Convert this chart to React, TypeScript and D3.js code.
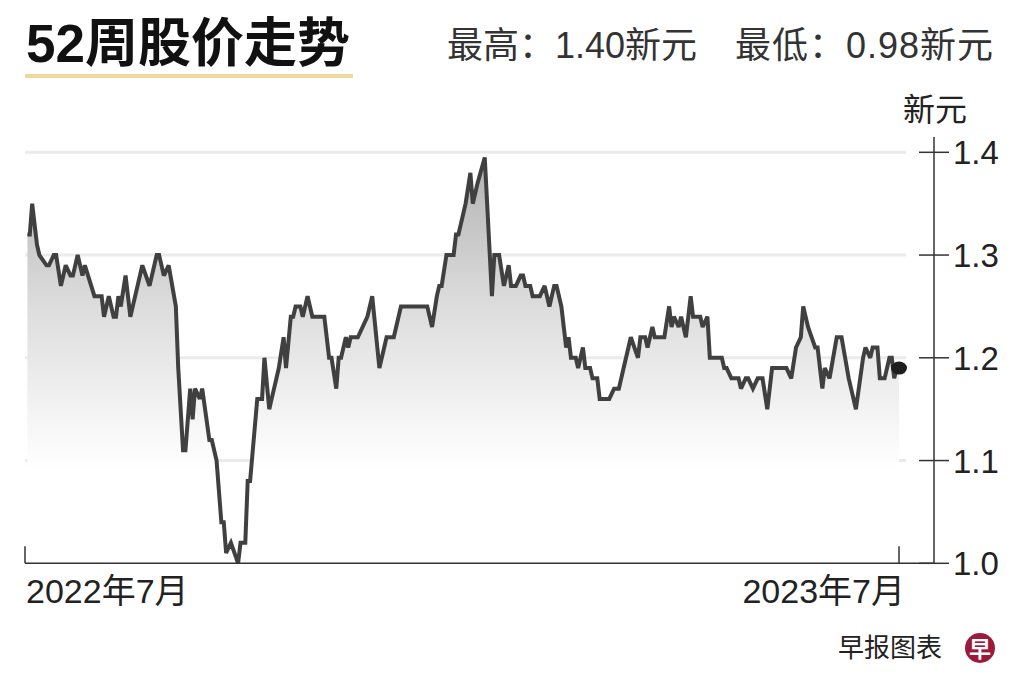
import React from "react";
import * as d3 from "d3";

// days since 2022-07-01
const days = [
  1, 2, 3, 5, 6, 9, 10, 12, 13, 15, 17, 19, 20, 22, 24, 25, 29, 32, 33, 35,
  37, 38, 39, 40, 42, 44, 46, 49, 52, 55, 56, 58, 60, 63, 64, 66, 67, 69, 70, 71,
  73, 74, 77, 78, 80, 82, 83, 84, 86, 89, 90, 92, 93, 94, 97, 99, 100, 102, 103, 105,
  106, 108, 109, 111, 112, 113, 115, 116, 118, 120, 125, 127, 128, 130, 131, 132, 134, 135, 136, 139,
  143, 145, 148, 151, 154, 157, 168, 170, 172, 173, 174, 176, 179, 180, 181, 183, 184, 186, 187, 189,
  192, 195, 196, 198, 200, 202, 203, 205, 207, 208, 209, 211, 212, 215, 217, 219, 221, 222, 224, 226,
  227, 228, 230, 231, 233, 234, 236, 237, 239, 240, 244, 246, 248, 250, 251, 253, 256, 257, 259, 260,
  262, 263, 267, 269, 270, 271, 273, 274, 276, 278, 279, 282, 283, 285, 286, 291, 292, 293, 295, 298,
  299, 301, 302, 304, 306, 308, 310, 312, 318, 320, 322, 324, 325, 327, 330, 331, 333, 334, 336, 339,
  341, 344, 346, 347, 350, 351, 353, 354, 356, 357, 359, 361, 362, 363, 364, 365,
];

// closing price, S$
const prices = [
  1.32, 1.32, 1.35, 1.31, 1.30, 1.29, 1.29, 1.30, 1.30, 1.27, 1.29, 1.28, 1.28, 1.30, 1.28, 1.29, 1.26, 1.26, 1.24, 1.26,
  1.24, 1.24, 1.26, 1.25, 1.28, 1.24, 1.26, 1.29, 1.27, 1.30, 1.30, 1.28, 1.29, 1.25, 1.19, 1.11, 1.11, 1.17, 1.14, 1.17,
  1.16, 1.17, 1.12, 1.12, 1.10, 1.04, 1.04, 1.01, 1.02, 1.00, 1.02, 1.02, 1.08, 1.08, 1.16, 1.16, 1.20, 1.15, 1.16, 1.18,
  1.19, 1.22, 1.19, 1.24, 1.24, 1.25, 1.25, 1.24, 1.26, 1.24, 1.24, 1.20, 1.20, 1.17, 1.20, 1.20, 1.22, 1.21, 1.22, 1.22,
  1.24, 1.26, 1.19, 1.22, 1.22, 1.25, 1.25, 1.23, 1.26, 1.27, 1.27, 1.30, 1.30, 1.32, 1.32, 1.34, 1.35, 1.38, 1.35, 1.37,
  1.395, 1.26, 1.30, 1.30, 1.27, 1.29, 1.27, 1.27, 1.28, 1.28, 1.27, 1.27, 1.26, 1.26, 1.27, 1.25, 1.27, 1.27, 1.25, 1.21,
  1.22, 1.20, 1.20, 1.19, 1.21, 1.19, 1.19, 1.18, 1.18, 1.16, 1.16, 1.17, 1.17, 1.19, 1.20, 1.22, 1.20, 1.22, 1.22, 1.21,
  1.23, 1.22, 1.22, 1.25, 1.23, 1.24, 1.23, 1.24, 1.22, 1.26, 1.24, 1.24, 1.23, 1.24, 1.20, 1.20, 1.19, 1.19, 1.18, 1.18,
  1.17, 1.18, 1.18, 1.17, 1.18, 1.18, 1.15, 1.19, 1.19, 1.18, 1.21, 1.22, 1.25, 1.23, 1.21, 1.21, 1.17, 1.19, 1.18, 1.22,
  1.22, 1.18, 1.16, 1.15, 1.20, 1.21, 1.20, 1.21, 1.21, 1.18, 1.18, 1.20, 1.20, 1.18, 1.19, 1.19,
];

const yTicks = [1.0, 1.1, 1.2, 1.3, 1.4];
const xTickDays = [0, 365];
const xTickLabels = ["2022年7月", "2023年7月"];

const title = "52周股价走势";
const highText = "最高：1.40新元";
const lowText = "最低：0.98新元";
const unitText = "新元";
const sourceText = "早报图表";

const FONT = "'Liberation Sans', 'Noto Sans CJK SC', sans-serif";

export default function App() {
  const W = 1024;
  const H = 682;
  const x = d3.scaleLinear().domain([0, 365]).range([25, 899]);
  const y = d3.scaleLinear().domain([1.0, 1.4]).range([563.3, 152.3]);
  const pts = days.map((d, i) => [d, prices[i]] as [number, number]);
  const line = d3
    .line<[number, number]>()
    .x((d) => x(d[0]))
    .y((d) => y(d[1]))
    .curve(d3.curveLinear);
  const area = d3
    .area<[number, number]>()
    .x((d) => x(d[0]))
    .y0(y(1.09))
    .y1((d) => y(d[1]));
  const last = pts[pts.length - 1];
  const axisX = 934;

  return (
    <svg
      width={W}
      height={H}
      style={{ position: "absolute", left: 0, top: 0, background: "#fff" }}
      fontFamily={FONT}
    >
      <defs>
        <linearGradient id="fillGrad" gradientUnits="userSpaceOnUse" x1="0" x2="0" y1={y(1.4)} y2={y(1.09)}>
          <stop offset="0%" stopColor="#b0b0b0" />
          <stop offset="45%" stopColor="#dadada" />
          <stop offset="85%" stopColor="#f6f6f6" />
          <stop offset="100%" stopColor="#ffffff" />
        </linearGradient>
      </defs>
      <rect x={0} y={0} width={W} height={H} fill="#fff" />

      {/* title */}
      <text x={26} y={62} fontSize={53} fontWeight={700} fill="#111">
        {title}
      </text>
      <rect x={25} y={74} width={328} height={4} fill="#efd89c" />
      <text x={447} y={58} fontSize={36} fill="#333">
        {highText}
      </text>
      <text x={735} y={58} fontSize={36} fill="#333" textLength={258} lengthAdjust="spacing">
        {lowText}
      </text>

      {/* gridlines */}
      {yTicks
        .filter((t) => t > 1.0)
        .map((t) => (
          <line key={t} x1={25} x2={906} y1={y(t)} y2={y(t)} stroke="#ebebeb" strokeWidth={3} />
        ))}

      {/* area + line */}
      <path d={area(pts) || ""} fill="url(#fillGrad)" />
      <path d={line(pts) || ""} fill="none" stroke="#404040" strokeWidth={4} strokeLinejoin="miter" strokeMiterlimit={3} />
      <ellipse cx={x(last[0])} cy={y(last[1])} rx={8} ry={6.5} fill="#1e1e1e" />

      {/* x axis */}
      <line x1={25} x2={axisX} y1={y(1.0)} y2={y(1.0)} stroke="#333" strokeWidth={1.5} />
      {xTickDays.map((d) => (
        <line key={d} x1={x(d)} x2={x(d)} y1={y(1.0) - 17} y2={y(1.0)} stroke="#333" strokeWidth={1.5} />
      ))}
      <text x={x(xTickDays[0]) + 1} y={603} fontSize={34} fill="#222">
        {xTickLabels[0]}
      </text>
      <text x={x(xTickDays[1]) + 6} y={603} fontSize={34} fill="#222" textAnchor="end">
        {xTickLabels[1]}
      </text>

      {/* y axis */}
      <line x1={axisX} x2={axisX} y1={137} y2={y(1.0)} stroke="#333" strokeWidth={1.5} />
      {yTicks.map((t) => (
        <g key={t}>
          <line x1={axisX - 15} x2={axisX + 15} y1={y(t)} y2={y(t)} stroke="#333" strokeWidth={1.5} />
          <text x={953} y={y(t) + 12} fontSize={33} fill="#222">
            {t.toFixed(1)}
          </text>
        </g>
      ))}
      <text x={903} y={121} fontSize={32} fill="#222">
        {unitText}
      </text>

      {/* source */}
      <text x={942} y={657} fontSize={26} fill="#222" textAnchor="end">
        {sourceText}
      </text>
      <circle cx={980} cy={648} r={15} fill="#9c1a3c" />
      <text x={980} y={657} fontSize={22} fontWeight={700} fill="#fff" textAnchor="middle">
        早
      </text>
    </svg>
  );
}
